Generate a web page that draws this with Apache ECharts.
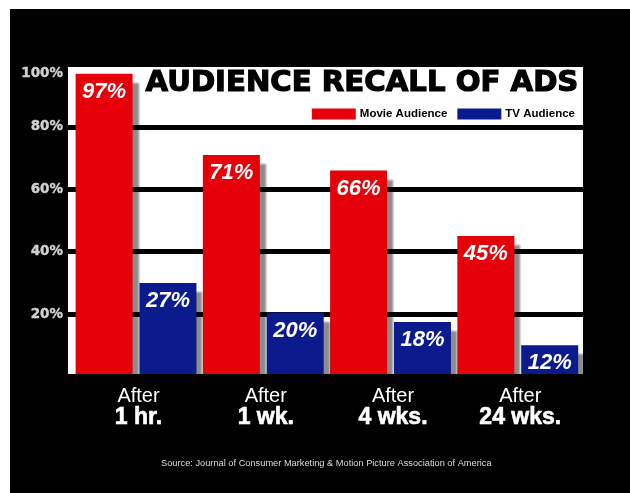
<!DOCTYPE html>
<html>
<head>
<meta charset="utf-8">
<script src="https://cdn.jsdelivr.net/npm/echarts@6/dist/echarts.min.js"></script>
<style>
html,body{margin:0;padding:0;background:#fff;}
#chart{width:630px;height:493px;}
</style>
</head>
<body>
<div id="chart"></div>
<script>
// ---- data ----
var catTop = ['After', 'After', 'After', 'After'];
var catBottom = ['1 hr.', '1 wk.', '4 wks.', '24 wks.'];
var seriesNames = ['Movie Audience', 'TV Audience'];
var movieValues = [97, 71, 66, 45];          // bar heights as drawn
var tvValues = [30, 20.5, 17.5, 10];          // bar heights as drawn
var movieLabels = ['97%', '71%', '66%', '45%'];
var tvLabels = ['27%', '20%', '18%', '12%'];
var yTicks = [0, 20, 40, 60, 80, 100];
var titleText = 'AUDIENCE RECALL OF ADS';
var sourceText = 'Source: Journal of Consumer Marketing & Motion Picture Association of America';

var categories = catTop.map(function (t, i) { return t + '\n' + catBottom[i]; });

var RED = '#e6000a', BLUE = '#0b1a8c';
var LS = 'Liberation Sans, Arial, sans-serif';
var shadow = { shadowColor: 'rgba(0,0,0,0.45)', shadowOffsetX: 6, shadowOffsetY: 9, shadowBlur: 2 };

function barLabel(labels) {
  return {
    show: true, position: 'insideTop', distance: 7,
    color: '#fff', fontFamily: LS, fontWeight: 'bold', fontStyle: 'italic', fontSize: 22,
    formatter: function (p) { return labels[p.dataIndex]; }
  };
}

var chart = echarts.init(document.getElementById('chart'), null, { renderer: 'canvas' });
chart.setOption({
  backgroundColor: '#ffffff',
  animation: false,
  title: [
    { text: titleText, left: 145.5, top: 68.5, padding: 0,
      textStyle: { fontFamily: 'DejaVu Sans', fontWeight: 'bold', fontSize: 29.2, color: '#000',
                   textBorderColor: '#000', textBorderWidth: 1.2 } },
    { text: sourceText, left: 161, top: 459, padding: 0,
      textStyle: { fontFamily: LS, fontWeight: 'normal', fontSize: 9.25, color: '#dcdcdc' } }
  ],
  legend: {
    data: seriesNames, right: 50, top: 103, itemWidth: 44, itemHeight: 11, itemGap: 10,
    icon: 'rect',
    itemStyle: { shadowBlur: 0, shadowColor: 'transparent', shadowOffsetX: 0, shadowOffsetY: 0 },
    textStyle: { fontFamily: LS, fontWeight: 'bold', fontSize: 11.5, color: '#000', padding: [0, 0, 0, -1] }
  },
  graphic: [
    { type: 'rect', z: -100, silent: true, shape: { x: 10, y: 9, width: 620, height: 484 }, style: { fill: '#000' } },
    { type: 'rect', z: 100, silent: true, shape: { x: 60, y: 374, width: 540, height: 13 }, style: { fill: '#000' } }
  ],
  grid: [
    { left: 68, right: 47, top: 64.5, height: 312, show: true, backgroundColor: '#fff', borderWidth: 0 },
    { left: 72.4, right: 48.6, top: 64.5, height: 312 }
  ],
  xAxis: [
    { gridIndex: 0, type: 'value', show: false, min: 0, max: 1 },
    { gridIndex: 1, type: 'category', data: categories, z: 200,
      axisLine: { show: false }, axisTick: { show: false },
      axisLabel: {
        margin: 8.5, interval: 0,
        formatter: function (v, i) { return '{a|' + catTop[i] + '}\n{b|' + catBottom[i] + '}'; },
        rich: {
          a: { fontFamily: LS, fontSize: 20, color: '#fff', lineHeight: 22, padding: [0, 0, 0, 5] },
          b: { fontFamily: LS, fontSize: 23, fontWeight: 'bold', color: '#fff', lineHeight: 22, padding: [0, 0, 0, 5],
               textBorderColor: '#fff', textBorderWidth: 0.6 }
        }
      } }
  ],
  yAxis: [
    { gridIndex: 0, type: 'value', min: yTicks[0], max: yTicks[yTicks.length - 1], interval: 20,
      axisLine: { show: false }, axisTick: { show: false },
      splitLine: { show: true, lineStyle: { color: '#000', width: 5 } },
      axisLabel: {
        margin: 5, color: '#d0d0d0', fontFamily: 'DejaVu Sans', fontWeight: 'bold', fontSize: 13.5,
        textBorderColor: '#d0d0d0', textBorderWidth: 0.4,
        formatter: function (v) {
          if (v === 0) return '';
          if (v === 100) return '{t|' + v + '%}';
          return v + '%';
        },
        rich: { t: { color: '#d0d0d0', fontFamily: 'DejaVu Sans', fontWeight: 'bold', fontSize: 13.5,
                     textBorderColor: '#d0d0d0', textBorderWidth: 0.4, padding: [17, 0, 0, 0] } }
      } },
    { gridIndex: 1, type: 'value', min: 0, max: 100, show: false, splitLine: { show: false } }
  ],
  series: [
    { name: seriesNames[0], type: 'bar', xAxisIndex: 1, yAxisIndex: 1, data: movieValues,
      barWidth: 57, barGap: '12%',
      itemStyle: Object.assign({ color: RED }, shadow), label: barLabel(movieLabels) },
    { name: seriesNames[1], type: 'bar', xAxisIndex: 1, yAxisIndex: 1, data: tvValues,
      barWidth: 57, barGap: '12%',
      itemStyle: Object.assign({ color: BLUE }, shadow), label: barLabel(tvLabels) }
  ]
});
</script>
</body>
</html>
